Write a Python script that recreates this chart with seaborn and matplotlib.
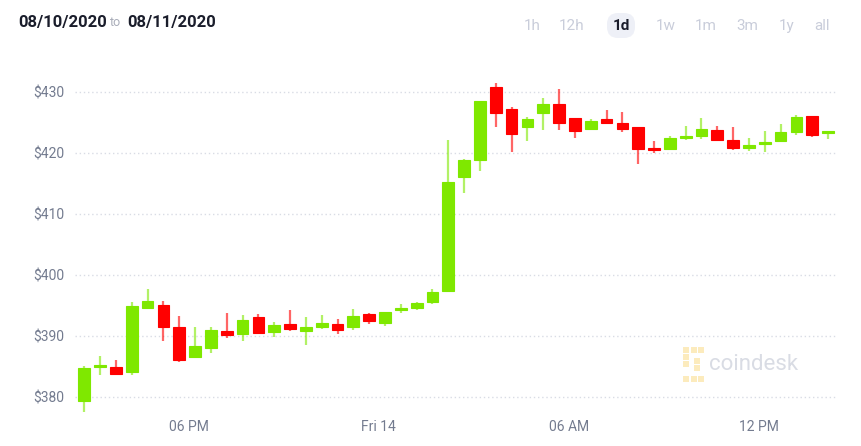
import matplotlib
matplotlib.use("Agg")
import matplotlib.pyplot as plt
import seaborn as sns
import pandas as pd
from matplotlib.patches import FancyBboxPatch

# 30-minute candles, 08/13 14:30 -> 08/14 14:30
opens = [379.3, 384.9, 384.9, 384.1, 394.6, 395.1, 391.4, 386.6, 388.1, 390.8,
         390.4, 393.1, 390.7, 391.9, 390.9, 391.5, 391.9, 391.4, 393.6, 392.1,
         394.2, 394.6, 395.6, 397.3, 416.0, 418.9, 430.9, 427.2, 424.2, 426.6,
         428.0, 425.7, 423.9, 425.5, 424.9, 424.2, 420.7, 420.7, 422.4, 422.8,
         423.8, 422.2, 420.9, 421.5, 421.9, 423.4, 426.0, 423.2]
highs = [385.1, 386.8, 386.1, 395.5, 397.7, 395.8, 393.2, 391.5, 391.4, 393.8,
         393.5, 393.6, 392.3, 394.3, 393.1, 393.5, 392.8, 394.5, 393.8, 394.0,
         395.2, 395.6, 397.7, 422.1, 419.0, 428.5, 431.4, 427.5, 425.9, 429.1,
         430.5, 425.7, 425.5, 427.0, 426.7, 424.2, 421.9, 422.8, 424.4, 425.8,
         424.4, 424.3, 422.4, 423.6, 424.7, 426.2, 426.1, 423.6]
lows = [377.4, 383.6, 383.7, 383.6, 394.6, 389.2, 385.7, 386.6, 387.2, 389.6,
        389.2, 390.4, 389.9, 390.8, 388.6, 391.1, 390.4, 391.0, 391.9, 391.7,
        393.7, 394.2, 395.2, 397.3, 413.4, 417.1, 424.3, 420.1, 422.0, 423.7,
        423.8, 422.4, 423.9, 424.9, 423.4, 418.2, 420.0, 420.7, 422.1, 422.3,
        421.9, 420.5, 420.3, 420.1, 421.8, 423.0, 422.6, 422.3]
closes = [384.7, 385.1, 383.8, 394.9, 395.7, 391.4, 386.0, 388.4, 391.0, 390.1,
          392.7, 390.5, 391.8, 391.2, 391.4, 392.1, 391.0, 393.2, 392.4, 394.0,
          394.6, 395.4, 397.2, 415.2, 418.9, 428.5, 426.5, 423.1, 425.6, 428.0,
          424.9, 423.6, 425.2, 424.9, 424.0, 420.7, 420.5, 422.5, 422.6, 423.9,
          422.2, 420.8, 421.3, 421.7, 423.5, 425.9, 422.9, 423.6]

x_tick_pos = [6.6, 18.6, 30.6, 42.6]
x_tick_labels = ["06 PM", "Fri 14", "06 AM", "12 PM"]
y_ticks = [380, 390, 400, 410, 420, 430]
ranges = ["1h", "12h", "1d", "1w", "1m", "3m", "1y", "all"]

GREEN = "#7fe800"
RED = "#ff0000"

df = pd.DataFrame({"open": opens, "high": highs, "low": lows, "close": closes})
df["idx"] = range(len(df))
df["up"] = df["close"] >= df["open"]
df["bottom"] = df[["open", "close"]].min(axis=1)
df["height"] = (df["close"] - df["open"]).abs().clip(lower=0.35)
df["color"] = df["up"].map({True: GREEN, False: RED})

sns.set_theme(style="white")
plt.rcParams["font.family"] = ["Roboto", "DejaVu Sans"]

fig = plt.figure(figsize=(8.62, 4.46), dpi=100)
ax = fig.add_axes([75 / 862, 1 - 412 / 446, (836 - 75) / 862, (412 - 60) / 446])

# wicks
ax.vlines(df["idx"], df["low"], df["high"], colors=df["color"], linewidth=1.6,
          alpha=0.6, zorder=2)
# bodies
ax.bar(df["idx"], df["height"], bottom=df["bottom"], width=0.74,
       color=df["color"], edgecolor=df["color"], linewidth=0.8, zorder=3)

ax.set_xlim(-0.59, 47.5)
ax.set_ylim(377.54, 435.25)
ax.set_yticks(y_ticks)
ax.set_yticklabels([f"${v}" for v in y_ticks])
ax.set_xticks(x_tick_pos)
ax.set_xticklabels(x_tick_labels)
ax.tick_params(axis="both", length=0, labelsize=10, labelcolor="#737b8f")
ax.tick_params(axis="y", pad=8)
ax.tick_params(axis="x", pad=6)
ax.yaxis.grid(True, color="#d9dce5", linestyle=(0, (1, 2)), linewidth=1)
ax.set_axisbelow(True)
sns.despine(ax=ax, left=True, bottom=True)

# watermark
ax.text(0.833, 0.135, "coindesk", transform=ax.transAxes, fontsize=16,
        color="#d9dce4", ha="left", va="center", zorder=1)
icon_x = [0.803, 0.813, 0.823, 0.803, 0.803, 0.803, 0.813, 0.823, 0.818, 0.818]
icon_y = [0.175, 0.175, 0.175, 0.135, 0.155, 0.095, 0.095, 0.095, 0.145, 0.125]
ax.scatter(icon_x, icon_y, transform=ax.transAxes, s=22, color="#fcebbd",
           marker="s", zorder=1, linewidths=0)

# header
fig.text(18 / 862, 1 - 22 / 446, "08/10/2020", fontsize=12, fontweight="bold",
         color="#1a1d2b", va="center", ha="left")
fig.text(110 / 862, 1 - 23 / 446, "to", fontsize=9, color="#a9adb9",
         va="center", ha="left")
fig.text(127 / 862, 1 - 22 / 446, "08/11/2020", fontsize=12, fontweight="bold",
         color="#1a1d2b", va="center", ha="left")

btn_x = [532, 572, 621, 666, 706, 747, 787, 822]
for label, bx in zip(ranges, btn_x):
    active = label == "1d"
    if active:
        pill = FancyBboxPatch((bx - 14, 446 - 38), 28, 25,
                              boxstyle="round,pad=0,rounding_size=11",
                              transform=None, facecolor="#eef0f7",
                              edgecolor="none")
        fig.patches.append(pill)
    fig.text(bx / 862, 1 - 26 / 446, label, fontsize=11,
             fontweight="bold" if active else "normal",
             color="#1a1d2b" if active else "#c9cdda", ha="center", va="center")

fig.savefig("out.png", dpi=100)
plt.close(fig)
